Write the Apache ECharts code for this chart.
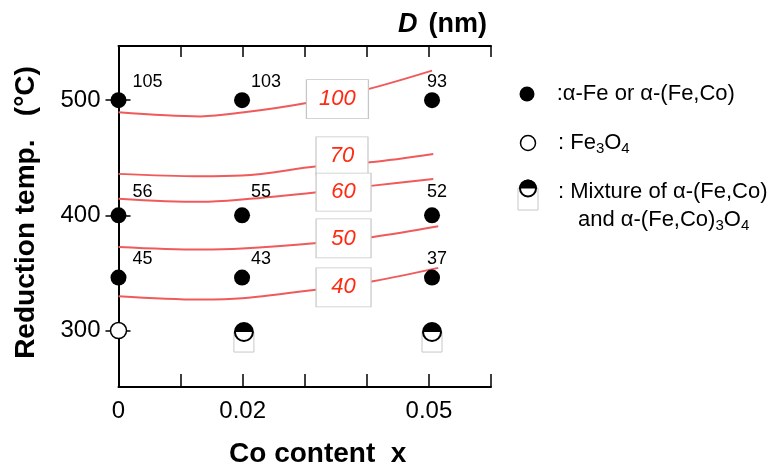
<!DOCTYPE html>
<html><head><meta charset="utf-8">
<script src="https://cdn.jsdelivr.net/npm/echarts@6/dist/echarts.min.js"></script>
<style>html,body{margin:0;padding:0;background:#fff}#c{width:776px;height:466px}</style>
</head><body><div id="c"></div>
<script>
// ---- data ----
const xTickLabels = ['0', '', '0.02', '', '', '0.05', ''];
const yTickValues = [300, 400, 500];

const alphaPoints = [[0,500],[0.0199,500],[0.0505,500],[0,400],[0.0199,400],[0.0505,400],[0,346],[0.0199,346],[0.0505,346]];
const alphaSizes = ['105','103','93','56','55','52','45','43','37'];
const fe3o4Points = [[0,300]];
const mixturePoints = [[0.0202,298.7],[0.0505,298.7]];

const contour100 = [[0,489.4],[0.0132,485.9],[0.0199,489.2],[0.0305,497.8],[0.0405,510],[0.0505,525.6]];
const contour70  = [[0,436],[0.0132,433.9],[0.0199,434.5],[0.032,442.6],[0.0405,446],[0.0507,453.3]];
const contour60  = [[0,414.5],[0.0132,411.7],[0.0199,413.7],[0.032,420],[0.041,425.8],[0.0507,431.6]];
const contour50  = [[0,372.6],[0.0132,370.3],[0.0199,371.2],[0.032,376.1],[0.041,381.3],[0.0515,390.5]];
const contour40  = [[0,329.8],[0.0132,326.9],[0.0199,328],[0.032,335.6],[0.041,342.8],[0.0515,354.4]];
const contourLabels = ['100','70','60','50','40'];
const contourLabelAt = [[0.03526,500.9],[0.036,451.6],[0.03625,420.2],[0.03625,380],[0.03625,337.5]];

// ---- styles (not data) ----
const boxSizes = [[62,39],[52,38],[55,38],[55,39],[55,39]];
const colDx = [14, 9, -5];
const rowDy = [-18, -23, -19];
const FONT = '"Liberation Sans", Arial, sans-serif';
const lineRed = '#f05a5a';

const chart = echarts.init(document.getElementById('c'));
const contourSeries = [contour100, contour70, contour60, contour50, contour40].map(d => ({
  type: 'line', data: d, smooth: 0.35, showSymbol: false, silent: true, clip: false,
  lineStyle: { color: lineRed, width: 2 }, z: 1
}));

const axisLineStyle = { lineStyle: { color: '#000', width: 2 } };
chart.setOption({
  animation: false,
  textStyle: { fontFamily: FONT, color: '#000' },
  grid: { left: 118.5, right: 285, top: 46, bottom: 79, containLabel: false, outerBoundsMode: 'none' },
  xAxis: [
    { type: 'value', min: 0, max: 0.06, interval: 0.01, position: 'bottom',
      axisLine: axisLineStyle, splitLine: { show: false },
      axisTick: { inside: true, length: 13, lineStyle: { color: '#000', width: 1.5 } },
      axisLabel: { fontSize: 24, color: '#000', margin: 12, fontFamily: FONT,
        formatter: v => xTickLabels[Math.round(v * 100)] || '' },
      name: 'Co content  x', nameLocation: 'middle', nameGap: 53,
      nameTextStyle: { fontSize: 28, fontWeight: 'bold', color: '#000', fontFamily: FONT, padding: [0,0,0,26] } },
    { type: 'value', min: 0, max: 0.06, interval: 0.01, position: 'top',
      axisLine: axisLineStyle, splitLine: { show: false },
      axisTick: { inside: true, length: 11, lineStyle: { color: '#000', width: 1.5 } },
      axisLabel: { show: false } }
  ],
  yAxis: [
    { type: 'value', min: 251, max: 547, position: 'left',
      axisLine: { show: true, lineStyle: { color: '#000', width: 2 } }, splitLine: { show: false },
      axisTick: { show: true, inside: true, length: 12, customValues: yTickValues, lineStyle: { color: '#000', width: 1.5 } },
      axisLabel: { customValues: yTickValues, fontSize: 24, color: '#000', margin: 18, fontFamily: FONT },
      name: 'Reduction temp.   (°C)', nameLocation: 'middle', nameGap: 78,
      nameTextStyle: { fontSize: 28, fontWeight: 'bold', color: '#000', fontFamily: FONT, padding: [0,0,0,8] } },
    { type: 'value', min: 251, max: 547, position: 'right',
      axisLine: { show: true, lineStyle: { color: '#000', width: 2 } }, splitLine: { show: false },
      axisTick: { show: true, inside: true, length: 13, customValues: yTickValues, lineStyle: { color: '#000', width: 1.5 } },
      axisLabel: { show: false } }
  ],
  series: contourSeries.concat([
    { type: 'scatter', z: 3, silent: true, clip: false, symbol: 'rect',
      data: contourLabelAt.map((p, i) => ({ value: [p[0], p[1], contourLabels[i]], symbolSize: boxSizes[i] })),
      itemStyle: { color: '#fff', borderColor: '#c6c6c6', borderWidth: 1, opacity: 1 },
      label: { show: true, position: 'inside', formatter: p => p.value[2], color: '#ff2a10',
        fontStyle: 'italic', fontSize: 22, fontFamily: FONT } },
    { type: 'scatter', z: 5, silent: true, clip: false, symbol: 'circle', symbolSize: 16,
      itemStyle: { color: '#000', opacity: 1 },
      data: alphaPoints.map((p, i) => ({ value: [p[0], p[1], alphaSizes[i]],
        label: { offset: [colDx[i % 3], rowDy[Math.floor(i / 3)]] } })),
      label: { show: true, position: 'inside', align: 'left', verticalAlign: 'middle',
        formatter: p => p.value[2], color: '#000', fontSize: 18, fontFamily: FONT } },
    { type: 'scatter', z: 5, silent: true, clip: false, symbol: 'circle', symbolSize: 16,
      itemStyle: { color: '#fff', borderColor: '#000', borderWidth: 1.5, opacity: 1 },
      data: fe3o4Points },
    { type: 'scatter', z: 4, silent: true, clip: false, symbol: 'rect', symbolSize: [20, 20], symbolOffset: [0, 10],
      itemStyle: { color: '#fff', borderColor: '#c8c8c8', borderWidth: 1, opacity: 1 },
      data: mixturePoints },
    { type: 'scatter', z: 5, silent: true, clip: false, symbol: 'circle', symbolSize: 18,
      itemStyle: { color: '#fff', borderColor: '#000', borderWidth: 2, opacity: 1 },
      data: mixturePoints },
    { type: 'scatter', z: 6, silent: true, clip: false, symbol: 'path://M0,10 A10,10 0 0,1 20,10 Z',
      symbolSize: [18, 9], symbolOffset: [0, -4.5],
      itemStyle: { color: '#000', opacity: 1 },
      data: mixturePoints }
  ]),
  graphic: [
    { type: 'text', z: 10, style: { x: 398, y: 25, align: 'left', verticalAlign: 'middle',
        text: 'D', fontStyle: 'italic', fontWeight: 'bold', fontSize: 27, fontFamily: FONT, fill: '#000' } },
    { type: 'text', z: 10, style: { x: 487, y: 25, align: 'right', verticalAlign: 'middle',
        text: '(nm)', fontWeight: 'bold', fontSize: 27, fontFamily: FONT, fill: '#000' } },
    // legend markers
    { type: 'circle', shape: { cx: 527, cy: 94, r: 7.5 }, style: { fill: '#000' } },
    { type: 'circle', shape: { cx: 528, cy: 143, r: 7.5 }, style: { fill: '#fff', stroke: '#000', lineWidth: 1.5 } },
    { type: 'rect', shape: { x: 518, y: 188, width: 20, height: 22 }, style: { fill: '#fff', stroke: '#c8c8c8', lineWidth: 1 } },
    { type: 'circle', shape: { cx: 528, cy: 188.5, r: 8 }, style: { fill: '#fff', stroke: '#000', lineWidth: 2 } },
    { type: 'sector', shape: { cx: 528, cy: 188.5, r0: 0, r: 9, startAngle: Math.PI, endAngle: 2 * Math.PI }, style: { fill: '#000' } },
    // legend texts
    { type: 'text', style: { x: 556.7, y: 94, verticalAlign: 'middle', text: ':α-Fe or α-(Fe,Co)', fontSize: 22, fontFamily: FONT, fill: '#000' } },
    { type: 'text', style: { x: 558, y: 143, verticalAlign: 'middle', text: ': Fe{s|3}O{s|4}', fontSize: 22, lineHeight: 26, fontFamily: FONT, fill: '#000',
        rich: { s: { fontSize: 15, verticalAlign: 'bottom', fontFamily: FONT } } } },
    { type: 'text', style: { x: 558, y: 192, verticalAlign: 'middle', text: ': Mixture of α-(Fe,Co)', fontSize: 22, fontFamily: FONT, fill: '#000' } },
    { type: 'text', style: { x: 578, y: 220, verticalAlign: 'middle', text: 'and α-(Fe,Co){s|3}O{s|4}', fontSize: 22, lineHeight: 26, fontFamily: FONT, fill: '#000',
        rich: { s: { fontSize: 15, verticalAlign: 'bottom', fontFamily: FONT } } } }
  ]
});
</script></body></html>
